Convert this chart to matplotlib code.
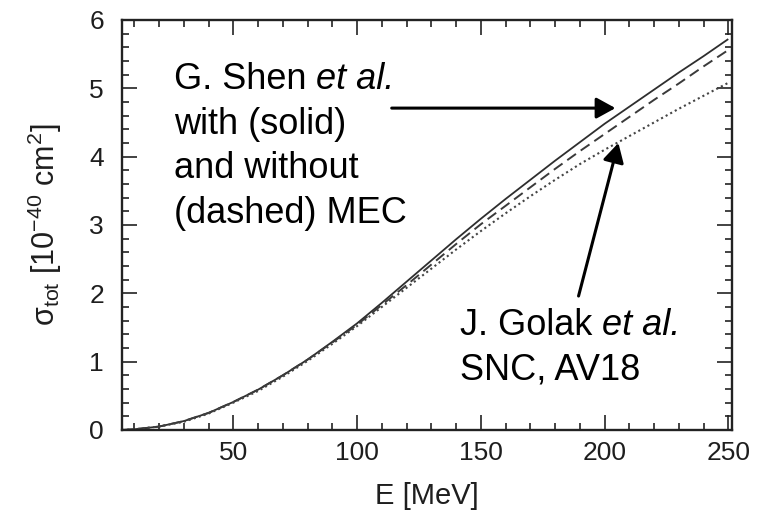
import matplotlib
matplotlib.use("Agg")
import matplotlib.pyplot as plt
from matplotlib.ticker import MultipleLocator

plt.rcParams["font.family"] = ["Liberation Sans", "DejaVu Sans"]
plt.rcParams["mathtext.fontset"] = "custom"
plt.rcParams["mathtext.rm"] = "Liberation Sans"
plt.rcParams["mathtext.it"] = "Liberation Sans:italic"

# total cross section vs neutrino energy
energy = [5, 10, 20, 30, 40, 50, 60, 70, 80, 90, 100, 110, 120, 130, 140,
          150, 160, 170, 180, 190, 200, 210, 220, 230, 240, 250]
shen_mec = [0.00, 0.01, 0.05, 0.13, 0.25, 0.41, 0.59, 0.80, 1.03, 1.29, 1.56,
            1.86, 2.17, 2.48, 2.79, 3.09, 3.38, 3.66, 3.94, 4.21, 4.48, 4.73,
            4.98, 5.23, 5.47, 5.72]
shen_no_mec = [0.00, 0.01, 0.05, 0.13, 0.25, 0.41, 0.59, 0.80, 1.03, 1.28, 1.54,
               1.83, 2.12, 2.42, 2.72, 3.01, 3.28, 3.55, 3.82, 4.08, 4.33, 4.58,
               4.83, 5.07, 5.32, 5.56]
golak_snc = [0.00, 0.01, 0.05, 0.12, 0.24, 0.40, 0.57, 0.78, 1.01, 1.26, 1.52,
             1.80, 2.08, 2.36, 2.64, 2.91, 3.17, 3.42, 3.66, 3.89, 4.10, 4.30,
             4.50, 4.70, 4.89, 5.08]

x_ticks = [50, 100, 150, 200, 250]
y_ticks = [0, 1, 2, 3, 4, 5, 6]

shen_lines = ["with (solid)", "and without", "(dashed) MEC"]
golak_lines = ["SNC, AV18"]

fig = plt.figure(figsize=(7.59, 5.25), dpi=100)
ax = fig.add_axes([0.1607, 0.181, 0.8037, 0.781])

ax.plot(energy, shen_mec, color="#2e2e2e", lw=1.3, solid_capstyle="butt")
ax.plot(energy, shen_no_mec, color="#3a3a3a", lw=1.4, dashes=(5.5, 3.0))
ax.plot(energy, golak_snc, color="#444444", lw=1.5, dashes=(1.0, 1.5))

ax.set_xlim(5, 251.5)
ax.set_ylim(0, 6)
ax.set_xticks(x_ticks)
ax.set_yticks(y_ticks)
ax.xaxis.set_minor_locator(MultipleLocator(10))
ax.yaxis.set_minor_locator(MultipleLocator(0.2))

ax.tick_params(which="both", direction="in", top=True, right=True,
               width=1.2, color="#222222")
ax.tick_params(which="major", length=11, labelsize=19, labelcolor="#1e1e1e")
ax.tick_params(axis="x", which="major", pad=8)
ax.tick_params(axis="y", which="major", pad=13)
ax.tick_params(which="minor", length=5)
for spine in ax.spines.values():
    spine.set_linewidth(1.7)
    spine.set_color("#222222")

ax.set_xlabel("E [MeV]", fontsize=21, color="#1e1e1e", labelpad=12)
ax.set_ylabel("σ$_{\\rm tot}$ [10$^{-40}$ cm$^{2}$]", fontsize=22,
              color="#1e1e1e", labelpad=18)


def author_block(x, y0, pitch, name, rest):
    # first line: name followed by an italic "et al.", then plain lines below
    head = ax.text(x, y0, name + " ", fontsize=26, va="baseline", ha="left")
    ax.annotate("et al.", xy=(1, 0), xycoords=head, va="bottom", ha="left",
                fontsize=26, fontstyle="italic")
    for i, line in enumerate(rest, start=1):
        ax.text(x, y0 - i * pitch, line, fontsize=26, va="baseline", ha="left")


arrow = dict(arrowstyle="-|>,head_length=0.4,head_width=0.22",
             mutation_scale=29, lw=2.2, color="black",
             shrinkA=0, shrinkB=0)

author_block(26.0, 4.99, 0.655, "G. Shen", shen_lines)
ax.annotate("", xy=(204.4, 4.71), xytext=(114.0, 4.71), arrowprops=arrow)

author_block(141.5, 1.39, 0.655, "J. Golak", golak_lines)
ax.annotate("", xy=(205.6, 4.20), xytext=(189.5, 1.96), arrowprops=arrow)

fig.savefig("out.png", dpi=100)
